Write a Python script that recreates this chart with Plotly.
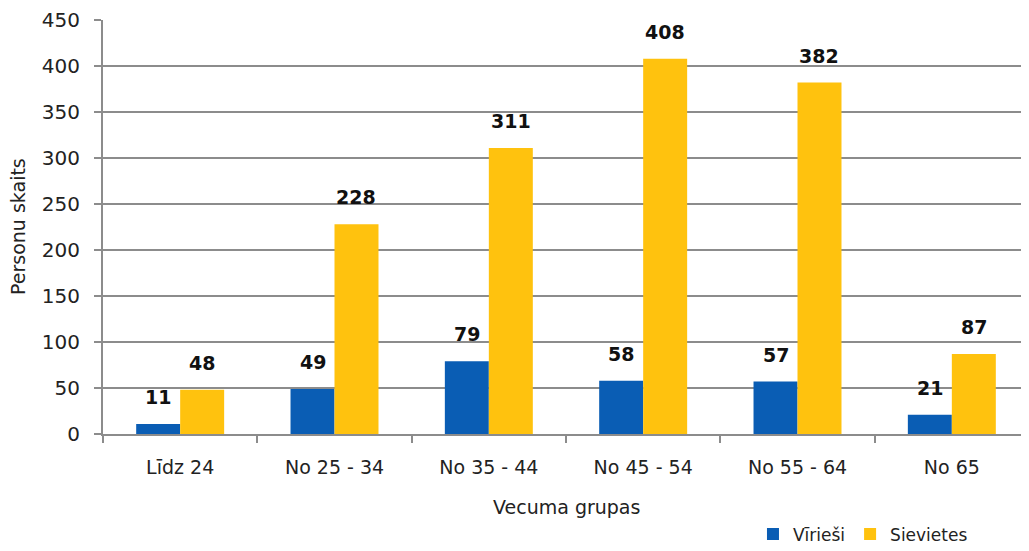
import plotly.graph_objects as go

categories = ["Līdz 24", "No 25 - 34", "No 35 - 44", "No 45 - 54", "No 55 - 64", "No 65"]
virieshi = [11, 49, 79, 58, 57, 21]
sievietes = [48, 228, 311, 408, 382, 87]
series_names = ["Vīrieši", "Sievietes"]
colors = ["#0A5DB4", "#FFC20E"]

FONT = "DejaVu Sans, sans-serif"
fig = go.Figure()
for name, vals, col in zip(series_names, [virieshi, sievietes], colors):
    fig.add_trace(go.Bar(x=categories, y=vals, name=name, marker_color=col,
                         marker_line_width=0))

bargap = 0.43
half = (1 - bargap) / 4
for i in range(len(categories)):
    for vals, off in ((virieshi, -half), (sievietes, half)):
        fig.add_annotation(x=i + off, y=vals[i], xref="x", yref="y", text=f"<b>{vals[i]}</b>",
                           showarrow=False, yanchor="bottom", yshift=14,
                           font=dict(family=FONT, size=19, color="#111"))

fig.add_annotation(x=-85 / 926, y=0.5, xref="paper", yref="paper", text="Personu skaits",
                   textangle=-90, showarrow=False, xanchor="center", yanchor="middle",
                   font=dict(family=FONT, size=19, color="#222"))
fig.add_annotation(x=0.5, y=-73 / 415, xref="paper", yref="paper", text="Vecuma grupas",
                   showarrow=False, xanchor="center", yanchor="middle",
                   font=dict(family=FONT, size=19, color="#222"))

fig.update_layout(
    width=1029, height=551, barmode="group", bargap=bargap, bargroupgap=0,
    margin=dict(l=95, r=8, t=12, b=124),
    plot_bgcolor="white", paper_bgcolor="white",
    font=dict(family=FONT, size=19, color="#222"),
    legend=dict(orientation="h", x=0.9395, xanchor="right", y=-117.5 / 415, yanchor="bottom",
                font=dict(size=17), traceorder="normal", itemwidth=30),
    showlegend=True,
)
fig.update_xaxes(showline=True, linecolor="#8c8c8c", linewidth=2, ticks="outside",
                 ticklen=7, tickcolor="#8c8c8c", tickwidth=2, tickson="boundaries",
                 tickfont=dict(size=19), automargin=False, ticklabelstandoff=15)
fig.update_yaxes(range=[0, 450], dtick=50, showgrid=True, gridcolor="#8c8c8c", gridwidth=2,
                 showline=True, linecolor="#8c8c8c", linewidth=2, ticks="outside",
                 ticklen=7, tickcolor="#8c8c8c", tickwidth=2, zeroline=False,
                 tickfont=dict(size=20), automargin=False, ticklabelstandoff=10)
fig.write_html("out.html")
